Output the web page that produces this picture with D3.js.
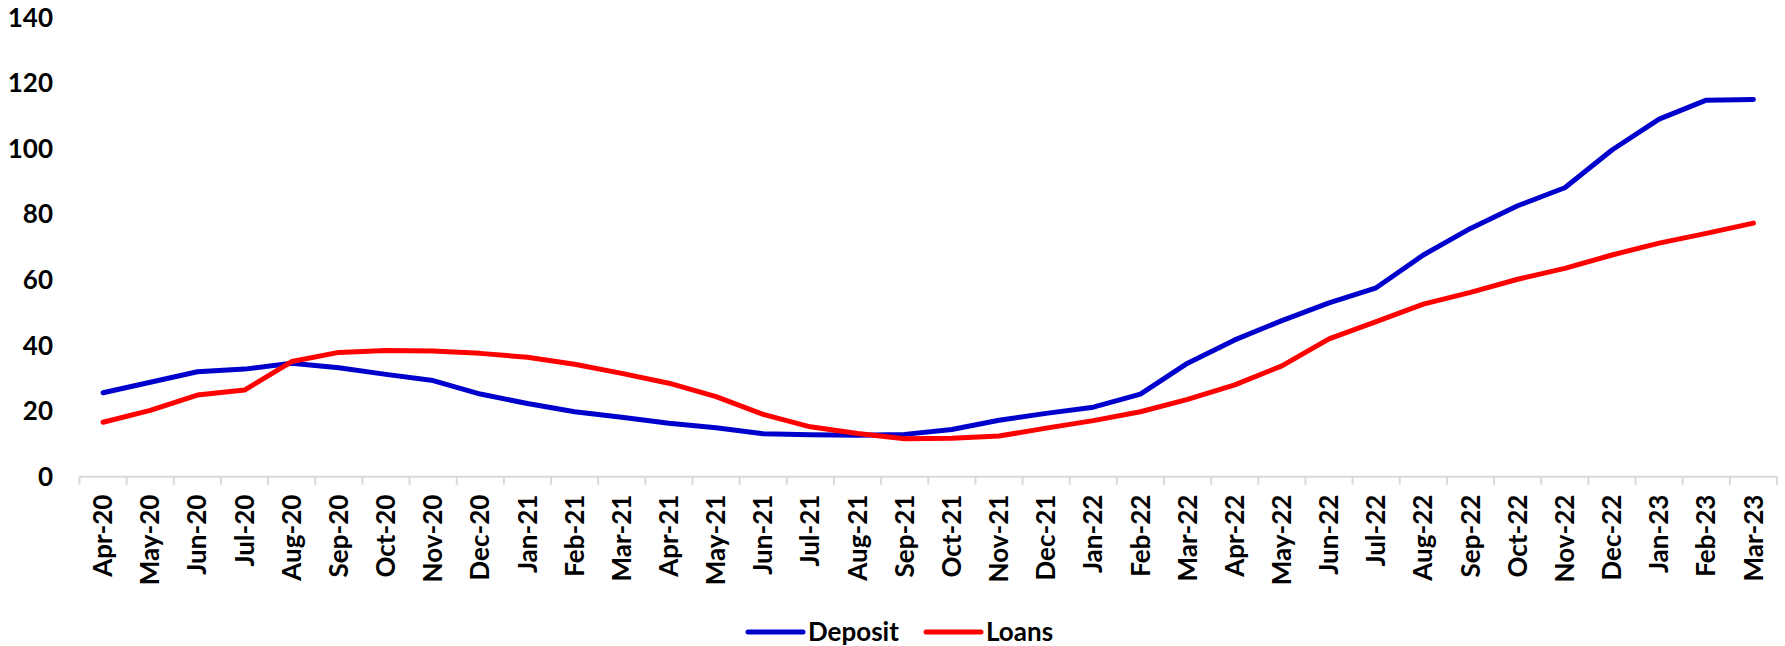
<!DOCTYPE html>
<html>
<head>
<meta charset="utf-8">
<script src="https://cdn.jsdelivr.net/npm/d3@7"></script>
<style>
    body { margin: 0; background: #fff; }
    text { font-family: Lato, "Open Sans", sans-serif; font-weight: bold; fill: #000; }
</style>
</head>
<body>
<svg id="svg1"></svg>
<script>
// Data
const months = ["Apr-20", "May-20", "Jun-20", "Jul-20", "Aug-20", "Sep-20", "Oct-20", "Nov-20", "Dec-20",
    "Jan-21", "Feb-21", "Mar-21", "Apr-21", "May-21", "Jun-21", "Jul-21", "Aug-21", "Sep-21", "Oct-21", "Nov-21", "Dec-21",
    "Jan-22", "Feb-22", "Mar-22", "Apr-22", "May-22", "Jun-22", "Jul-22", "Aug-22", "Sep-22", "Oct-22", "Nov-22", "Dec-22",
    "Jan-23", "Feb-23", "Mar-23"];

const deposit = [25.6, 28.8, 32.0, 32.8, 34.6, 33.2, 31.2, 29.3, 25.2,
    22.3, 19.8, 18.1, 16.3, 14.9, 13.1, 12.8, 12.6, 12.9, 14.4, 17.2, 19.3,
    21.2, 25.2, 34.6, 41.7, 47.6, 53.0, 57.6, 67.6, 75.7, 82.6, 88.1, 99.6,
    109.0, 114.8, 115.0];

const loans = [16.6, 20.2, 24.9, 26.4, 35.1, 37.9, 38.5, 38.3, 37.6,
    36.4, 34.3, 31.5, 28.5, 24.4, 19.0, 15.2, 13.2, 11.6, 11.7, 12.4, 14.8,
    17.1, 19.8, 23.6, 28.0, 33.8, 42.0, 47.3, 52.6, 56.2, 60.2, 63.5, 67.6,
    71.2, 74.2, 77.3];

const yTicks = [0, 20, 40, 60, 80, 100, 120, 140];

const series = [
    { name: "Deposit", values: deposit, color: "#0000cc" },
    { name: "Loans", values: loans, color: "#ff0000" }
];

// Kích thước
const width = 1785;
const height = 646;
const margin = { top: 17.5, right: 8, bottom: 169.3, left: 79.5 };

const svg = d3.select("#svg1")
    .attr("width", width)
    .attr("height", height);

const x = d3.scaleBand()
    .domain(months)
    .range([margin.left, width - margin.right]);

const y = d3.scaleLinear()
    .domain([0, 140])
    .range([height - margin.bottom, margin.top]);

// Trục X
const xAxis = svg.append("g")
    .attr("transform", `translate(0,${height - margin.bottom})`);

xAxis.append("line")
    .attr("x1", margin.left)
    .attr("x2", width - margin.right)
    .attr("stroke", "#d9d9d9")
    .attr("stroke-width", 2);

xAxis.selectAll(".tick-mark")
    .data(months.concat([null]))
    .enter()
    .append("line")
    .attr("x1", (d, i) => margin.left + i * x.step())
    .attr("x2", (d, i) => margin.left + i * x.step())
    .attr("y1", 0)
    .attr("y2", 8)
    .attr("stroke", "#d9d9d9")
    .attr("stroke-width", 2);

xAxis.selectAll(".xlabel")
    .data(months)
    .enter()
    .append("text")
    .attr("transform", d => `translate(${x(d) + x.bandwidth() / 2},18) rotate(-90)`)
    .attr("text-anchor", "end")
    .attr("dy", "0.35em")
    .style("font-size", "26px")
    .text(d => d);

// Trục Y
svg.append("g")
    .selectAll("text")
    .data(yTicks)
    .enter()
    .append("text")
    .attr("x", 53)
    .attr("y", d => y(d))
    .attr("dy", "0.35em")
    .attr("text-anchor", "end")
    .style("font-size", "26px")
    .text(d => d);

// Vẽ đường
const line = d3.line()
    .x((d, i) => x(months[i]) + x.bandwidth() / 2)
    .y(d => y(d));

series.forEach(s => {
    svg.append("path")
        .datum(s.values)
        .attr("fill", "none")
        .attr("stroke", s.color)
        .attr("stroke-width", 5)
        .attr("stroke-linejoin", "round")
        .attr("stroke-linecap", "round")
        .attr("d", line);
});

// Chú thích
const legend = svg.append("g")
    .attr("transform", `translate(748,632)`);

const legendX = [0, 178];
series.forEach((s, i) => {
    const g = legend.append("g").attr("transform", `translate(${legendX[i]},0)`);
    g.append("line")
        .attr("x1", 0).attr("x2", 55)
        .attr("stroke", s.color)
        .attr("stroke-width", 5)
        .attr("stroke-linecap", "round");
    g.append("text")
        .attr("x", 60)
        .attr("dy", "0.35em")
        .style("font-size", "26px")
        .text(s.name);
});
</script>
</body>
</html>
